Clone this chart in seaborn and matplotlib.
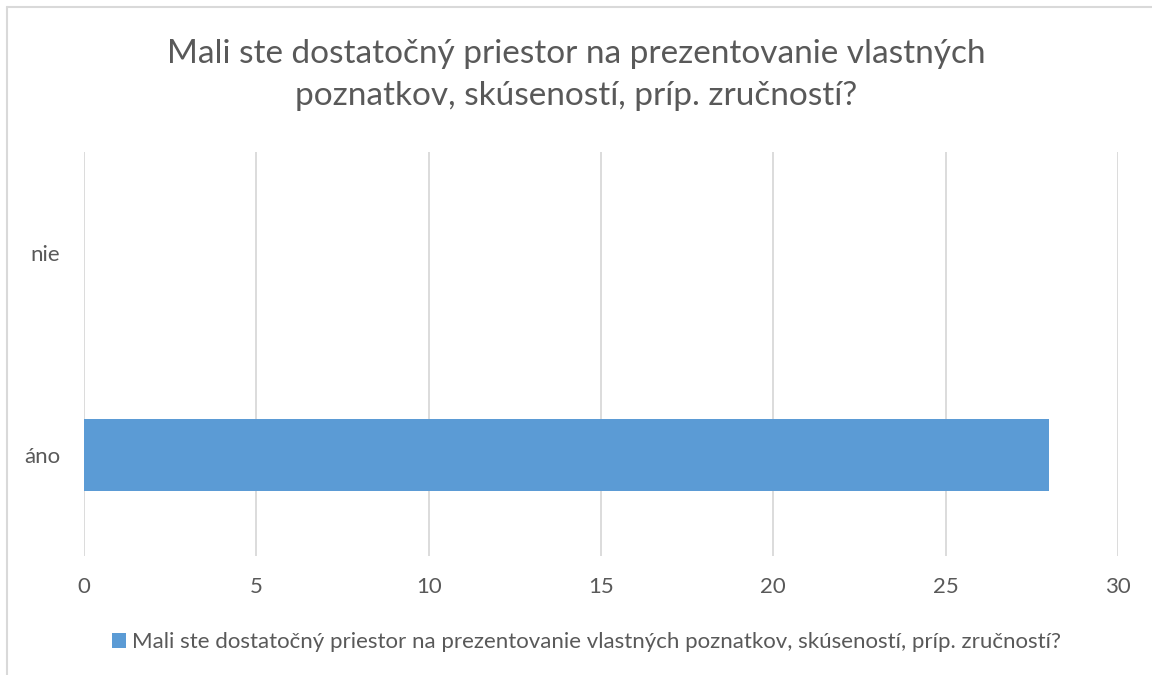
import matplotlib.pyplot as plt
import pandas as pd
import seaborn as sns
from matplotlib.lines import Line2D
from matplotlib.patches import Patch

TITLE = "Mali ste dostatočný priestor na prezentovanie vlastných\npoznatkov, skúseností, príp. zručností?"
SERIES_NAME = "Mali ste dostatočný priestor na prezentovanie vlastných poznatkov, skúseností, príp. zručností?"
CATEGORIES = ["nie", "áno"]
VALUES = [0, 28]
X_TICKS = [0, 5, 10, 15, 20, 25, 30]

BAR_COLOR = "#5B9BD5"
TEXT_COLOR = "#595959"
GRID_COLOR = "#D9D9D9"

sns.set_theme(style="white")
plt.rcParams["font.family"] = ["Lato", "DejaVu Sans"]

df = pd.DataFrame({"answer": CATEGORIES, "count": VALUES})

fig = plt.figure(figsize=(11.52, 6.75), dpi=100)
ax = fig.add_axes([0.0729, 0.1763, 0.8976, 0.5985])

sns.barplot(data=df, x="count", y="answer", order=CATEGORIES, color=BAR_COLOR,
            width=0.355, saturation=1, linewidth=0, edgecolor="none", ax=ax)

ax.set_xlim(0, 30)
ax.set_ylim(1.5, -0.5)
ax.set_xticks(X_TICKS)
ax.xaxis.grid(True, color=GRID_COLOR, linewidth=1.3)
ax.set_axisbelow(True)
for side in ["top", "right", "bottom", "left"]:
    ax.spines[side].set_visible(False)
ax.tick_params(axis="both", length=0, labelsize=16, labelcolor=TEXT_COLOR)
ax.tick_params(axis="x", pad=15)
ax.tick_params(axis="y", pad=17)
ax.set_xlabel("")
ax.set_ylabel("")

fig.suptitle(TITLE, y=0.942, fontsize=24, color=TEXT_COLOR, linespacing=1.5)

handle = Patch(facecolor=BAR_COLOR, edgecolor="none")
fig.legend([handle], [SERIES_NAME], loc="center", bbox_to_anchor=(0.509, 0.049),
           frameon=False, fontsize=16, labelcolor=TEXT_COLOR,
           handlelength=0.65, handleheight=0.65, handletextpad=0.25)

# partial chart frame (top and left edges)
fig.add_artist(Line2D([0.006, 1.0], [0.990, 0.990], transform=fig.transFigure,
                      color=GRID_COLOR, linewidth=1.5))
fig.add_artist(Line2D([0.006, 0.006], [0.0, 0.990], transform=fig.transFigure,
                      color=GRID_COLOR, linewidth=1.5))

fig.savefig("out.png", dpi=100, facecolor="white")
